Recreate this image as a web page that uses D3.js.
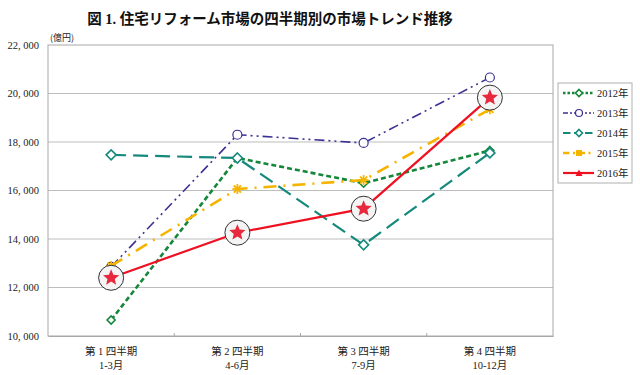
<!DOCTYPE html>
<html><head><meta charset="utf-8">
<script src="https://cdn.jsdelivr.net/npm/d3@7"></script>
<style>body{margin:0;background:#fff}svg{display:block}</style>
</head><body>
<svg id="c" width="640" height="375"></svg>
<script>
const categories = ["第 1 四半期|1-3月","第 2 四半期|4-6月","第 3 四半期|7-9月","第 4 四半期|10-12月"];
const seriesNames = ["2012年","2013年","2014年","2015年","2016年"];
const v2012 = [10660, 17340, 16300, 17650];
const v2013 = [12850, 18300, 17960, 20660];
const v2014 = [17470, 17340, 13760, 17550];
const v2015 = [12890, 16060, 16430, 19350];
const v2016 = [12400, 14260, 15250, 19830];
const yTicks = [10000,12000,14000,16000,18000,20000,22000];
const title = "図 1. 住宅リフォーム市場の四半期別の市場トレンド推移";
const unit = "(億円)";

const styles = [
  {color:"#14873a", dash:"5,3", w:2.6, marker:"diamond", ms:4},
  {color:"#3b3194", dash:"10,4,2,4,2,4", w:1.6, marker:"circle", ms:4.5},
  {color:"#158a7c", dash:"15,7", w:2.2, marker:"diamond", ms:5},
  {color:"#f5b400", dash:"13,7,2,7", w:2.6, marker:"asterisk", ms:5},
  {color:"#ee1122", dash:null, w:2.2, marker:"star", ms:8}
];
const data = [v2012,v2013,v2014,v2015,v2016];

const svg = d3.select("#c");
const L=48,R=553,T=45,B=336;
const x = d3.scaleBand().domain(categories).range([L,R]);
const y = d3.scaleLinear().domain([10000,22000]).range([B,T]);

svg.append("text").attr("x",270).attr("y",24).attr("text-anchor","middle")
  .attr("font-family","'Liberation Serif','Noto Sans CJK JP'").attr("font-weight","bold").attr("font-size",14.5).attr("fill","#111").text(title);

// grid
svg.append("g").selectAll("line").data(yTicks.slice(1,-1)).join("line")
  .attr("x1",L).attr("x2",R).attr("y1",d=>y(d)).attr("y2",d=>y(d)).attr("stroke","#bdbdbd").attr("stroke-width",1);
svg.append("rect").attr("x",L).attr("y",T).attr("width",R-L).attr("height",B-T).attr("fill","none").attr("stroke","#a8a8a8");

// y axis
const ya = svg.append("g").attr("transform",`translate(${L},0)`).call(d3.axisLeft(y).tickValues(yTicks).tickSize(0).tickPadding(9).tickFormat(d=>d3.format(",")(d).replace(",",", ")));
ya.select(".domain").remove();
ya.selectAll("text").attr("font-family","'Liberation Serif'").attr("font-size",10.5).attr("fill","#222");
svg.append("text").attr("x",50).attr("y",41).attr("font-family","'Noto Sans CJK JP'").attr("font-size",9).attr("fill","#222").text(unit);

// x axis
const xa = svg.append("g").attr("transform",`translate(0,${B})`).call(d3.axisBottom(x).tickSize(0).tickFormat(""));
xa.select(".domain").attr("stroke","#a8a8a8");
svg.append("g").selectAll("line").data(categories.slice(1)).join("line")
  .attr("x1",d=>x(d)).attr("x2",d=>x(d)).attr("y1",B-3).attr("y2",B).attr("stroke","#a8a8a8");
const cl = svg.append("g").selectAll("text").data(categories).join("text")
  .attr("text-anchor","middle").attr("font-family","'Liberation Serif','Noto Sans CJK JP'").attr("font-size",10.5).attr("fill","#222");
cl.append("tspan").attr("x",d=>x(d)+x.bandwidth()/2).attr("y",355).text(d=>d.split("|")[0]);
cl.append("tspan").attr("x",d=>x(d)+x.bandwidth()/2).attr("y",369).text(d=>d.split("|")[1]);

const cx = i => x(categories[i])+x.bandwidth()/2;
const line = d3.line().x((d,i)=>cx(i)).y(d=>y(d));

function starPath(r){const p=[];for(let k=0;k<10;k++){const a=-Math.PI/2+k*Math.PI/5;const rr=k%2?r*0.45:r;p.push([rr*Math.cos(a),rr*Math.sin(a)]);}return "M"+p.map(q=>q.join(",")).join("L")+"Z";}
function drawMarker(g,s,px,py,legend){
  const m=s.marker, r=legend?Math.min(s.ms,3.5):s.ms;
  if(m==="diamond") g.append("path").attr("d",`M${px},${py-r}L${px+r},${py}L${px},${py+r}L${px-r},${py}Z`).attr("fill","#fff").attr("stroke",s.color).attr("stroke-width",1.6);
  else if(m==="circle") g.append("circle").attr("cx",px).attr("cy",py).attr("r",r).attr("fill","#fff").attr("stroke",s.color).attr("stroke-width",1.2);
  else if(m==="asterisk"){ if(legend){g.append("rect").attr("x",px-3).attr("y",py-3).attr("width",6).attr("height",6).attr("fill",s.color);} else {for(let k=0;k<4;k++){const a=k*Math.PI/4;g.append("line").attr("x1",px-r*Math.cos(a)).attr("y1",py-r*Math.sin(a)).attr("x2",px+r*Math.cos(a)).attr("y2",py+r*Math.sin(a)).attr("stroke",s.color).attr("stroke-width",1.8);}}}
  else if(m==="star"){ if(legend){g.append("path").attr("d",`M${px},${py-3.5}L${px+3.5},${py+3}L${px-3.5},${py+3}Z`).attr("fill",s.color);} else {
    g.append("circle").attr("cx",px).attr("cy",py).attr("r",12.5).attr("fill","#f4f4f4").attr("stroke","#333").attr("stroke-width",1);
    g.append("path").attr("d",starPath(8.5)).attr("transform",`translate(${px},${py})`).attr("fill","#e8283c");}}
}

data.forEach((vals,si)=>{
  const s=styles[si];
  const g=svg.append("g");
  g.append("path").attr("d",line(vals)).attr("fill","none").attr("stroke",s.color).attr("stroke-width",s.w).attr("stroke-dasharray",s.dash);
  vals.forEach((v,i)=>drawMarker(g,s,cx(i),y(v),false));
});

// legend
const lg = svg.append("g");
lg.append("rect").attr("x",558).attr("y",83).attr("width",74).attr("height",100).attr("fill","#fff").attr("stroke","#b0b0b0");
seriesNames.forEach((n,i)=>{
  const s=styles[i], ly=93+i*20;
  lg.append("line").attr("x1",563).attr("x2",594).attr("y1",ly).attr("y2",ly).attr("stroke",s.color).attr("stroke-width",s.w).attr("stroke-dasharray",s.dash?s.dash.split(",").map(v=>Math.max(2,v*0.5)).join(","):null);
  drawMarker(lg,s,579,ly,true);
  lg.append("text").attr("x",597).attr("y",ly+4).attr("font-family","'Liberation Serif','Noto Sans CJK JP'").attr("font-size",10.5).attr("fill","#222").text(n);
});
</script>
</body></html>
